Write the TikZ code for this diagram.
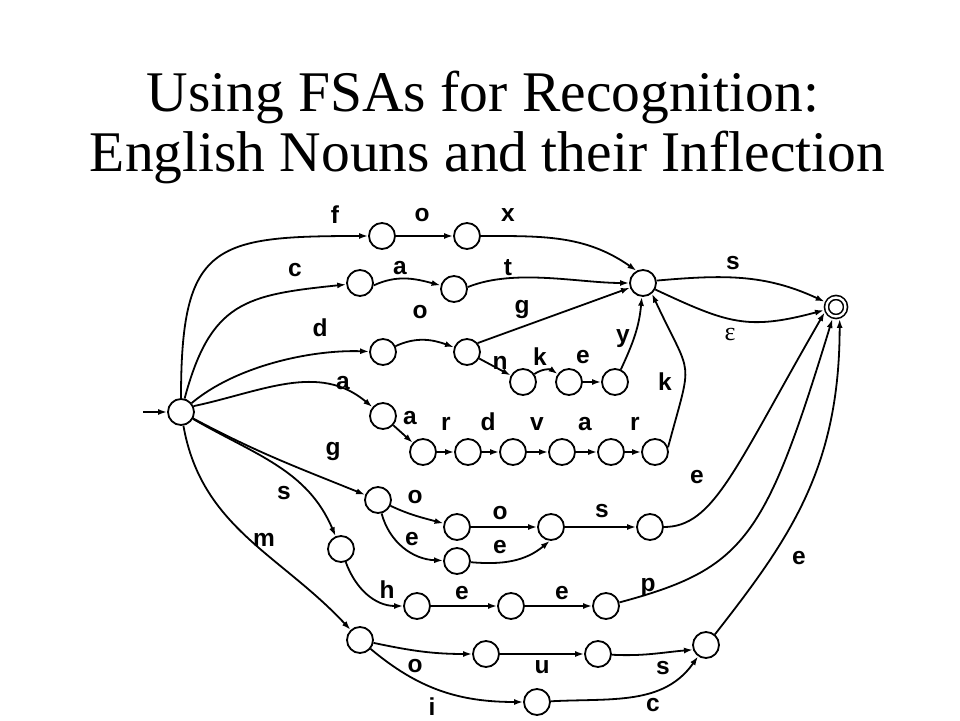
\documentclass[tikz,border=0pt]{standalone}
\usepackage{fontspec}
\setmainfont{Liberation Serif}
\newfontfamily\labfont{Liberation Sans}
\usetikzlibrary{arrows.meta}
\begin{document}
\begin{tikzpicture}[x=1pt,y=1pt,
  st/.style={circle,draw,line width=1.8pt,minimum size=26pt,inner sep=0pt},
  accst/.style={circle,draw,line width=1.6pt,double,double distance=2.4pt,minimum size=19pt,inner sep=0pt,outer sep=3pt},
  lab/.style={font=\labfont\bfseries\fontsize{24.5}{24.5}\selectfont,inner sep=0pt,anchor=base},
  eps/.style={font=\fontsize{26}{26}\selectfont,inner sep=0pt,anchor=base},
  ttl/.style={font=\fontsize{57.5}{60}\selectfont,inner sep=0pt,anchor=base},
  ed/.style={draw,line width=1.8pt,-{Latex[length=9pt,width=6pt]}}]
\useasboundingbox (0,0) rectangle (960,720);
% title
\node[ttl] (t1) at (483,608) {Using FSAs for Recognition:};
\node[ttl] (t2) at (487.5,548) {English Nouns and their Inflection};
% states
\node[st] (q0) at (181,308) {};
\node[st] (f) at (382,484) {};
\node[st] (fo) at (467,484) {};
\node[st] (c) at (360,437) {};
\node[st] (ca) at (454,431) {};
\node[st] (d) at (383,368) {};
\node[st] (do) at (467,368) {};
\node[st] (hub) at (643,437) {};
\node[accst] (fin) at (836,413) {};
\node[st] (n) at (523,338) {};
\node[st] (k) at (569,338) {};
\node[st] (e) at (615,338) {};
\node[st] (a) at (383,304) {};
\node[st] (aa) at (423,268) {};
\node[st] (r1) at (468,268) {};
\node[st] (r2) at (513,268) {};
\node[st] (r3) at (562,268) {};
\node[st] (r4) at (611,268) {};
\node[st] (r5) at (655,268) {};
\node[st] (g) at (378,220) {};
\node[st] (go) at (457,193) {};
\node[st] (ge) at (457,159) {};
\node[st] (gs) at (551,193) {};
\node[st] (gss) at (650,193) {};
\node[st] (s) at (341,171) {};
\node[st] (h) at (417,114) {};
\node[st] (he) at (511,114) {};
\node[st] (hep) at (606,114) {};
\node[st] (m) at (360,80) {};
\node[st] (mo) at (486,66) {};
\node[st] (mu) at (598,66) {};
\node[st] (mi) at (537,18) {};
\node[st] (ms) at (706,75) {};
\coordinate (ent) at (143,308);
% edges
\draw[ed] (ent) -- (q0);
\draw[ed] (q0) to[out=90,in=180,looseness=1.6] (f);
\draw[ed] (q0) to[out=75,in=186,looseness=1.3] (c);
\draw[ed] (q0) to[out=40,in=178,looseness=0.8] (d);
\draw[ed] (q0.25) to[out=12,in=140] (a);
\draw[ed] (q0) to[out=-28,in=158] (g);
\draw[ed] (q0) to[out=-30,in=113] (s);
\draw[ed] (q0) to[out=-80,in=133] (m);
\draw[ed] (f) -- (fo);
\draw[ed] (fo) to[out=0,in=145] (hub.118);
\draw[ed] (c.-10) to[out=25,in=165] (ca);
\draw[ed] (ca.8) to[out=22,in=180,looseness=0.8] (hub);
\draw[ed] (d) to[out=25,in=160] (do);
\draw[ed] (do.40) -- (hub.200);
\draw[ed] (do) -- (n);
\draw[ed] (n) to[bend left=35] (k);
\draw[ed] (k) -- (e);
\draw[ed] (e) to[out=65,in=-95] (hub);
\draw[ed] (a) -- (aa);
\draw[ed] (aa) -- (r1);
\draw[ed] (r1) -- (r2);
\draw[ed] (r2) -- (r3);
\draw[ed] (r3) -- (r4);
\draw[ed] (r4) -- (r5);
\draw[ed] (r5.20) to[out=75,in=-65,looseness=1.6] (hub.-50);
\draw[ed] (hub.10) to[out=5,in=155] (fin);
\draw[ed] (hub.-28) to[out=-25,in=195,looseness=1.2] (fin);
\draw[ed] (g) to[out=-25,in=165] (go);
\draw[ed] (g) to[out=-75,in=178] (ge);
\draw[ed] (go) -- (gs);
\draw[ed] (ge) to[out=-5,in=220] (gs.-95);
\draw[ed] (gs) -- (gss);
\draw[ed] (gss) to[out=0,in=240,out distance=50pt,in distance=180pt] (fin.205);
\draw[ed] (s) to[out=-70,in=180] (h);
\draw[ed] (h) -- (he);
\draw[ed] (he) -- (hep);
\draw[ed] (hep) to[out=15,in=-107,out distance=130pt,in distance=230pt] (fin.-107);
\draw[ed] (m) to[out=-12,in=180] (mo);
\draw[ed] (m) to[out=-40,in=180] (mi);
\draw[ed] (mo) -- (mu);
\draw[ed] (mu) to[out=-3,in=185] (ms.200);
\draw[ed] (mi) to[out=3,in=235] (ms);
\draw[ed] (ms.50) to[out=52,in=-90,out distance=120pt,in distance=150pt] (fin.-73);
% labels
\node[lab] (lf) at (335,496.5) {f};
\node[lab] (lfo) at (422,498.5) {o};
\node[lab] (lfx) at (508,498.5) {x};
\node[lab] (lc) at (295,443.5) {c};
\node[lab] (lca) at (400,445.5) {a};
\node[lab] (lct) at (508,444) {t};
\node[lab] (ldo) at (420,401.5) {o};
\node[lab] (ld) at (320,383.5) {d};
\node[lab] (ldg) at (522,406) {g};
\node[lab] (lhs) at (733,450.5) {s};
\node[eps] (leps) at (730,379) {ε};
\node[lab] (ln) at (500,350.5) {n};
\node[lab] (lk) at (540,354.5) {k};
\node[lab] (le) at (583,356.5) {e};
\node[lab] (ly) at (623,377.5) {y};
\node[lab] (lk2) at (665,329.5) {k};
\node[lab] (la) at (343,330.5) {a};
\node[lab] (laa) at (410,295.5) {a};
\node[lab] (lr1) at (446,289.5) {r};
\node[lab] (ld2) at (488,289.5) {d};
\node[lab] (lv) at (537,289.5) {v};
\node[lab] (la2) at (585,289.5) {a};
\node[lab] (lr2) at (635,289.5) {r};
\node[lab] (lg) at (333,264) {g};
\node[lab] (lge) at (697,236.5) {e};
\node[lab] (ls) at (284,220.5) {s};
\node[lab] (lgo) at (415,216.5) {o};
\node[lab] (lgoo) at (500,200.5) {o};
\node[lab] (lgs) at (602,202.5) {s};
\node[lab] (lgee) at (412,174.5) {e};
\node[lab] (lgee2) at (500,166.5) {e};
\node[lab] (lm) at (264,173.5) {m};
\node[lab] (lh) at (387,121.5) {h};
\node[lab] (lhe) at (462,120.5) {e};
\node[lab] (lhee) at (562,120.5) {e};
\node[lab] (lp) at (648,129) {p};
\node[lab] (lme) at (799,155.5) {e};
\node[lab] (lmo) at (415,47.5) {o};
\node[lab] (lmu) at (542,46.5) {u};
\node[lab] (lms) at (663,45.5) {s};
\node[lab] (lmi) at (432,4.5) {i};
\node[lab] (lmc) at (653,8.5) {c};
\end{tikzpicture}
\end{document}
